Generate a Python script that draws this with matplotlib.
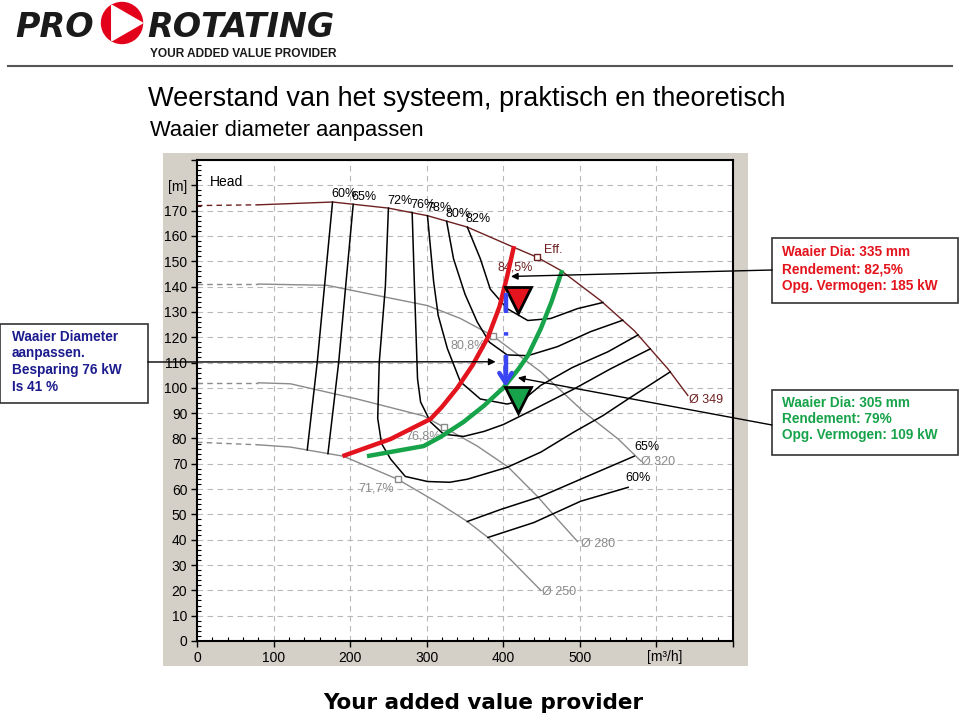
#!/usr/bin/env python3
import matplotlib
matplotlib.use('Agg')
import matplotlib.pyplot as plt
from matplotlib.patches import Rectangle, Circle, Polygon, ConnectionPatch
from matplotlib.ticker import MultipleLocator

plt.rcParams['font.family'] = ['Liberation Sans', 'DejaVu Sans']

# --- pump curves per impeller diameter (Q in m3/h, H in m) ---
# first segment (Q 0..80) is drawn dashed
q_349 = [0, 80, 177, 250, 301, 353, 410, 444, 475, 527, 571, 615, 641]
h_349 = [172, 172.3, 173.4, 171, 168, 163.5, 156, 151.6, 146.4, 134.5, 122.6, 107.5, 97]
q_320 = [0, 80, 170, 235, 301, 344, 386, 449, 505, 550, 580]
h_320 = [141, 141, 140.5, 136.5, 132.5, 127.4, 120.6, 106.3, 90.5, 79.8, 71]
q_280 = [0, 80, 122, 209, 296, 322, 366, 406, 445, 471, 497]
h_280 = [102, 102, 101.6, 95.6, 88.9, 84.5, 77, 68.8, 57, 48, 39.3]
q_250 = [0, 80, 122, 191, 262, 318, 353, 380, 410, 449]
h_250 = [78.5, 77.5, 76.6, 73, 63.9, 54, 47.2, 40.9, 32, 20]

# --- iso-efficiency lines ---
e60a_q = [177, 157, 144]
e60a_h = [173.4, 110, 75.5]
e65a_q = [204, 185, 171]
e65a_h = [172.5, 110, 74.0]
e72_q = [250, 246, 238, 236, 241, 253, 272, 301, 330, 353, 405, 449, 492, 530, 563, 618]
e72_h = [171, 140, 110, 88, 78, 71.8, 65, 63, 62.7, 63.9, 68.6, 74.6, 82.5, 89, 95.6, 106.3]
e76_q = [281, 284, 288, 292, 305, 322, 348, 375, 400, 440, 492, 540, 592]
e76_h = [169.2, 140, 103.6, 94.4, 86.5, 81.7, 80.8, 82.8, 85.5, 91.5, 99.5, 107.5, 115.4]
e78_q = [301, 305, 309, 315, 327, 344, 370, 405, 425, 449, 490, 537, 576]
e78_h = [168, 155, 142, 128.6, 115.5, 102.4, 95.6, 93.6, 95, 101, 108, 114.3, 120.9]
e80_q = [326, 335, 350, 366, 382, 405, 432, 471, 514, 556]
e80_h = [165.8, 151, 137, 126, 118, 113, 112.7, 116.3, 122.2, 126.7]
e82_q = [353, 370, 383, 405, 432, 462, 497, 530]
e82_h = [163.5, 151, 139, 131.3, 126.6, 127.4, 131.3, 133.7]
e65b_q = [353, 397, 449, 501, 571]
e65b_h = [47.2, 52, 57.1, 63.9, 73]
e60b_q = [380, 440, 501, 563]
e60b_h = [40.9, 46.8, 55.2, 60.7]
top_labels = ['60%', '65%', '72%', '76%', '78%', '80%', '82%']

# --- system curves ---
red_q = [190, 253, 305, 320, 340, 360, 380, 395, 405, 414]
red_h = [73, 79.8, 87.7, 92.5, 100, 109, 120, 132, 144, 156]
green_q = [222, 296, 318, 348, 375, 400, 420, 432, 449, 463, 477]
green_h = [73, 77, 80.6, 86.5, 93, 100, 107.5, 112.7, 123.4, 134, 146.5]

# best-efficiency markers on each diameter
bep_q = [444, 386, 322, 262]
bep_h = [151.6, 120.6, 84.5, 63.9]
bep_txt = ['84,5%', '80,8%', '76,8%', '71,7%']

# operating points (red = 335 mm, green = 305 mm)
op_q = [419, 419]
op_h = [134.6, 95.1]
blue_q = [403, 403]
blue_h = [137.6, 100.4]
callout_q = [410, 390, 419]
callout_h = [144, 110.3, 104]

RED = '#e3141d'
GREEN = '#17a34a'
NAVY = '#1c1c8e'
BLUE = '#3a46f2'
DARKRED = '#6e2020'
GREYC = '#8a8a8a'

fig = plt.figure(figsize=(9.6, 7.18), dpi=100)
fig.patch.set_facecolor('white')

# background layer in pixel coordinates, origin top left
bg = fig.add_axes([0, 0, 1, 1], zorder=0)
bg.set_xlim(0, 960)
bg.set_ylim(718, 0)
bg.axis('off')

# logo
bg.text(15, 37, 'PRO', fontsize=24, fontweight='bold', style='italic',
        family='DejaVu Sans', color='#1a1a1a', va='baseline')
bg.add_patch(Circle((122, 23), 20.5, color='#e2001a'))
bg.add_patch(Polygon([(111.75, 5.25), (111.75, 40.75), (142.5, 23)], color='white'))
bg.text(147, 37, 'ROTATING', fontsize=24, fontweight='bold', style='italic',
        family='DejaVu Sans', color='#1a1a1a', va='baseline')
bg.text(150, 57, 'YOUR ADDED VALUE PROVIDER', fontsize=8.6, fontweight='bold',
        color='#1a1a1a', va='baseline')
bg.plot([8, 952], [66, 66], color='#555555', lw=1.5)

bg.text(148, 106, 'Weerstand van het systeem, praktisch en theoretisch',
        fontsize=19.5, va='baseline')
bg.text(150, 136, 'Waaier diameter aanpassen', fontsize=15.8, va='baseline')
bg.text(483, 703, 'Your added value provider', fontsize=15.5, fontweight='bold',
        family='DejaVu Sans', ha='center', va='center')

# grey chart frame
bg.add_patch(Rectangle((163, 153), 585, 513, fc='#d4d0c8', ec='none'))
bg.text(665, 657, '[m³/h]', fontsize=10, ha='center', va='center')

# callout boxes
boxes = [
    ((772, 238), 186, 65, RED, 782, [252, 269, 286],
     ['Waaier Dia: 335 mm', 'Rendement: 82,5%', 'Opg. Vermogen: 185 kW']),
    ((0, 324), 148, 79, NAVY, 12, [337, 353, 370, 387],
     ['Waaier Diameter', 'aanpassen.', 'Besparing 76 kW', 'Is 41 %']),
    ((772, 390), 186, 65, GREEN, 782, [403, 419, 435],
     ['Waaier Dia: 305 mm', 'Rendement: 79%', 'Opg. Vermogen: 109 kW']),
]
for xy, w, hgt, col, tx, tys, lines in boxes:
    bg.add_patch(Rectangle(xy, w, hgt, fc='white', ec='#333333', lw=1.2))
    for ty, s in zip(tys, lines):
        bg.text(tx, ty, s, color=col, fontsize=9.8, fontweight='bold', va='center')

# chart
ax = fig.add_axes([197 / 960, 1 - 641 / 718, 536 / 960, 481 / 718], zorder=1)
ax.set_facecolor('white')
ax.set_xlim(0, 700)
ax.set_ylim(0, 190)
ax.set_xticks(range(0, 701, 100))
ax.set_xticklabels(['0', '100', '200', '300', '400', '500', '', ''])
ax.set_yticks(range(0, 191, 10))
ax.set_yticklabels([str(v) for v in range(0, 171, 10)] + ['[m]', ''])
ax.xaxis.set_minor_locator(MultipleLocator(20))
ax.yaxis.set_minor_locator(MultipleLocator(2))
ax.tick_params(which='major', direction='out', length=4, width=1, labelsize=10, pad=3)
ax.tick_params(which='minor', direction='in', length=3, width=0.8)
ax.grid(True, which='major', ls=(0, (5, 4)), color='#b8b8b8', lw=0.8)
ax.set_axisbelow(True)
for sp in ax.spines.values():
    sp.set_linewidth(1.5)

# impeller curves
for q, h, col in [(q_349, h_349, DARKRED), (q_320, h_320, GREYC),
                  (q_280, h_280, GREYC), (q_250, h_250, GREYC)]:
    ax.plot(q[:2], h[:2], ls=(0, (4, 3)), color=col, lw=1)
    ax.plot(q[1:], h[1:], color=col, lw=1)

# efficiency lines
eff_lines = [(e60a_q, e60a_h), (e65a_q, e65a_h), (e72_q, e72_h), (e76_q, e76_h),
             (e78_q, e78_h), (e80_q, e80_h), (e82_q, e82_h)]
for (q, h), lab in zip(eff_lines, top_labels):
    ax.plot(q, h, color='black', lw=1.1)
    ax.text(q[0] - 2, h[0] + 3, lab, fontsize=9, ha='left', va='center')
ax.plot(e65b_q, e65b_h, color='black', lw=1.1)
ax.plot(e60b_q, e60b_h, color='black', lw=1.1)
ax.text(571, 76.7, '65%', fontsize=9, va='center')
ax.text(560, 64.5, '60%', fontsize=9, va='center')

# diameter labels
ax.text(643, 95.3, 'Ø 349', fontsize=9, color=DARKRED, va='center')
ax.text(580, 70.8, 'Ø 320', fontsize=9, color=GREYC, va='center')
ax.text(501, 38.4, 'Ø 280', fontsize=9, color=GREYC, va='center')
ax.text(450, 19.4, 'Ø 250', fontsize=9, color=GREYC, va='center')
ax.text(17, 181.5, 'Head', fontsize=10, va='center')

# best efficiency points
for i, (q, h, s) in enumerate(zip(bep_q, bep_h, bep_txt)):
    col = DARKRED if i == 0 else GREYC
    ax.plot(q, h, marker='s', ms=5, mfc='white', mec=col, mew=1, zorder=4)
bep_lab = [(393, 147.5), (331, 116.6), (272, 80.7), (211, 60.1)]
for i, ((x, y), s) in enumerate(zip(bep_lab, bep_txt)):
    ax.text(x, y, s, fontsize=9, color=DARKRED if i == 0 else GREYC, va='center', zorder=3)
ax.text(453, 154.6, 'Eff.', fontsize=9, color=DARKRED, va='center')

# system curves
ax.plot(red_q, red_h, color=RED, lw=3.2, solid_capstyle='butt', zorder=5)
ax.plot(green_q, green_h, color=GREEN, lw=3.2, solid_capstyle='butt', zorder=5)

# operating point markers
ax.plot(op_q[0], op_h[0], marker='v', ms=19, mfc=RED, mec='black', mew=2, zorder=6)
ax.plot(op_q[1], op_h[1], marker='v', ms=19, mfc=GREEN, mec='black', mew=2, zorder=6)

# blue dashed arrow
ax.plot(blue_q, [blue_h[0], blue_h[1] + 3], color=BLUE, lw=3.2,
        ls=(0, (4.5, 4.3, 0.8, 4.3)), solid_capstyle='butt', zorder=7)
ax.annotate('', xy=(blue_q[1], blue_h[1]), xytext=(blue_q[0], blue_h[1] + 8),
            arrowprops=dict(arrowstyle='->,head_length=0.7,head_width=0.45',
                            color=BLUE, lw=3.2, shrinkA=0, shrinkB=0), zorder=7)

# callout leader lines from boxes to chart
starts = [(772, 270), (148, 362), (772, 425)]
for (sx, sy), cq, ch in zip(starts, callout_q, callout_h):
    con = ConnectionPatch(xyA=(sx, sy), coordsA='data', axesA=bg,
                          xyB=(cq, ch), coordsB='data', axesB=ax,
                          arrowstyle='-|>', mutation_scale=10, lw=1,
                          color='black', shrinkA=0, shrinkB=0, zorder=10)
    fig.add_artist(con)

fig.savefig('out.png', dpi=100)
